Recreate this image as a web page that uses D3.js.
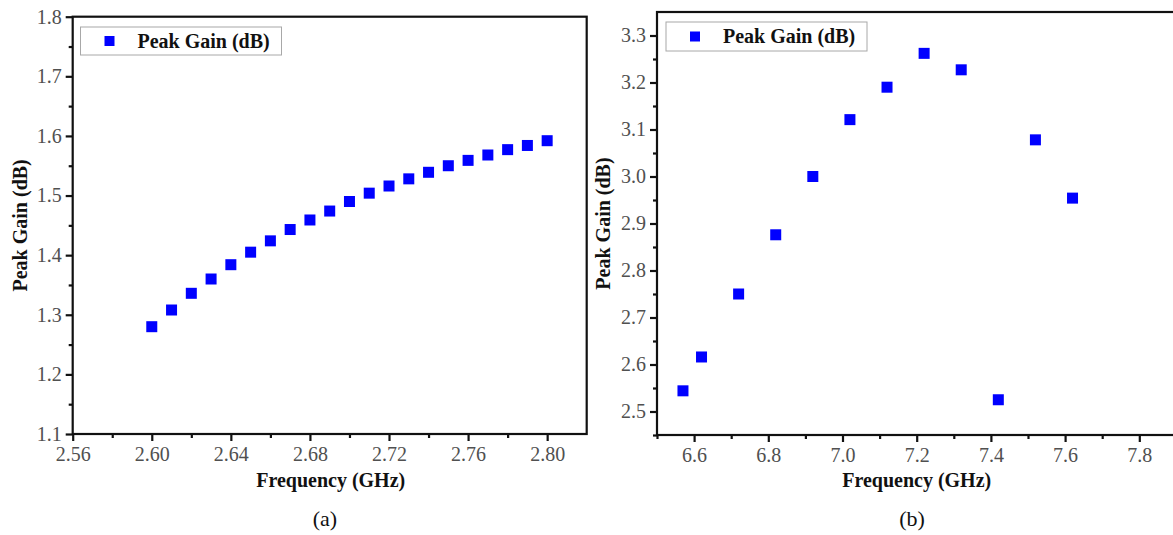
<!DOCTYPE html>
<html><head><meta charset="utf-8">
<script src="https://cdn.jsdelivr.net/npm/d3@7"></script>
<style>
html,body{margin:0;padding:0;background:#fff;}
svg{display:block;}
</style></head>
<body>
<svg id="c" width="1173" height="535"></svg>
<script>
// ---- data ----
const freqA = [2.60,2.61,2.62,2.63,2.64,2.65,2.66,2.67,2.68,2.69,2.70,2.71,2.72,2.73,2.74,2.75,2.76,2.77,2.78,2.79,2.80];
const gainA = [1.280,1.308,1.336,1.360,1.384,1.405,1.424,1.443,1.459,1.474,1.490,1.504,1.516,1.528,1.539,1.550,1.559,1.568,1.577,1.584,1.592];
const freqB = [6.57,6.62,6.72,6.82,6.92,7.02,7.12,7.22,7.32,7.42,7.52,7.62];
const gainB = [2.544,2.616,2.750,2.876,3.000,3.121,3.190,3.262,3.227,2.525,3.078,2.954];
const xTicksA = [2.56,2.60,2.64,2.68,2.72,2.76,2.80];
const xMinorA = [2.58,2.62,2.66,2.70,2.74,2.78];
const yTicksA = [1.1,1.2,1.3,1.4,1.5,1.6,1.7,1.8];
const yMinorA = [1.15,1.25,1.35,1.45,1.55,1.65,1.75];
const xTicksB = [6.6,6.8,7.0,7.2,7.4,7.6,7.8];
const xMinorB = [6.5,6.7,6.9,7.1,7.3,7.5,7.7];
const yTicksB = [2.5,2.6,2.7,2.8,2.9,3.0,3.1,3.2,3.3];
const yMinorB = [2.45,2.55,2.65,2.75,2.85,2.95,3.05,3.15,3.25];
const seriesName = "Peak Gain (dB)";
const xTitle = "Frequency (GHz)";
const yTitle = "Peak Gain (dB)";

const FONT = '"Liberation Serif","Times New Roman",Times,serif';
const svg = d3.select("#c");

function panel(cfg){
  const g = svg.append("g");
  const x = d3.scaleLinear().domain(cfg.xDom).range([cfg.left, cfg.right]);
  const y = d3.scaleLinear().domain(cfg.yDom).range([cfg.bottom, cfg.top]);
  const axisColor = "#111";
  g.append("rect").attr("x", cfg.left).attr("y", cfg.top)
    .attr("width", cfg.right - cfg.left).attr("height", cfg.bottom - cfg.top)
    .attr("fill", "none").attr("stroke", axisColor).attr("stroke-width", 2.2);
  const xa = g.append("g").attr("transform", `translate(0,${cfg.bottom})`)
    .call(d3.axisBottom(x).tickValues(cfg.xTicks).tickFormat(cfg.xFmt).tickSize(7).tickPadding(6));
  xa.attr("font-family", FONT);
  xa.select(".domain").remove();
  xa.selectAll(".tick line").attr("stroke", axisColor).attr("stroke-width", 2.2);
  xa.selectAll(".tick text").attr("font-size", 20).attr("fill", "#505050").attr("font-family", FONT);
  const xm = g.append("g").attr("transform", `translate(0,${cfg.bottom})`)
    .call(d3.axisBottom(x).tickValues(cfg.xMinor).tickFormat("").tickSize(4));
  xm.select(".domain").remove();
  xm.selectAll(".tick line").attr("stroke", axisColor).attr("stroke-width", 2.2);
  const ya = g.append("g").attr("transform", `translate(${cfg.left},0)`)
    .call(d3.axisLeft(y).tickValues(cfg.yTicks).tickFormat(d3.format(".1f")).tickSize(7).tickPadding(4));
  ya.attr("font-family", FONT);
  ya.select(".domain").remove();
  ya.selectAll(".tick line").attr("stroke", axisColor).attr("stroke-width", 2.2);
  ya.selectAll(".tick text").attr("font-size", 20).attr("fill", "#505050").attr("font-family", FONT);
  const ym = g.append("g").attr("transform", `translate(${cfg.left},0)`)
    .call(d3.axisLeft(y).tickValues(cfg.yMinor).tickFormat("").tickSize(4));
  ym.select(".domain").remove();
  ym.selectAll(".tick line").attr("stroke", axisColor).attr("stroke-width", 2.2);
  const s = 11;
  g.append("g").selectAll("rect").data(cfg.xs.map((d,i)=>[d, cfg.ys[i]])).join("rect")
    .attr("x", d => x(d[0]) - s/2).attr("y", d => y(d[1]) - s/2)
    .attr("width", s).attr("height", s).attr("fill", "#0000ff");
  const L = cfg.legend;
  g.append("rect").attr("x", L.x).attr("y", L.y).attr("width", L.w).attr("height", L.h)
    .attr("fill", "#fff").attr("stroke", "#a8a8a8").attr("stroke-width", 1);
  g.append("rect").attr("x", L.x + 24).attr("y", L.y + L.h/2 - 5).attr("width", 10).attr("height", 10).attr("fill", "#0000ff");
  g.append("text").attr("x", L.x + 57).attr("y", L.y + L.h/2 + 6.5).attr("font-size", 20)
    .attr("font-family", FONT).attr("font-weight", "bold").attr("fill", "#111").text(seriesName);
  g.append("text").attr("x", (cfg.left + cfg.right)/2 + cfg.xtOff).attr("y", 487).attr("text-anchor", "middle")
    .attr("font-family", FONT).attr("font-size", 20).attr("font-weight", "bold").attr("fill", "#111").text(xTitle);
  g.append("text").attr("transform", `translate(${cfg.ytX},${(cfg.top + cfg.bottom)/2}) rotate(-90)`)
    .attr("font-family", FONT).attr("text-anchor", "middle").attr("font-size", 20).attr("font-weight", "bold").attr("fill", "#111").text(yTitle);
  g.append("text").attr("x", cfg.capX).attr("y", 526).attr("text-anchor", "middle")
    .attr("font-family", FONT).attr("font-size", 22).attr("fill", "#111").text(cfg.caption);
}

panel({
  xDom:[2.56,2.82], yDom:[1.1,1.8], left:72.7, right:586.7, top:16.7, bottom:434,
  xTicks:xTicksA, xMinor:xMinorA, yTicks:yTicksA, yMinor:yMinorA, xFmt:d3.format(".2f"),
  xs:freqA, ys:gainA, legend:{x:80.5, y:27, w:201, h:28}, ytX:27, xtOff:1, capX:325, caption:"(a)"
});
panel({
  xDom:[6.5,7.9], yDom:[2.45,3.35], left:657, right:1176.4, top:12, bottom:435,
  xTicks:xTicksB, xMinor:xMinorB, yTicks:yTicksB, yMinor:yMinorB, xFmt:d3.format(".1f"),
  xs:freqB, ys:gainB, legend:{x:666, y:22, w:201, h:29}, ytX:610, xtOff:0, capX:912, caption:"(b)"
});
</script>
</body></html>
